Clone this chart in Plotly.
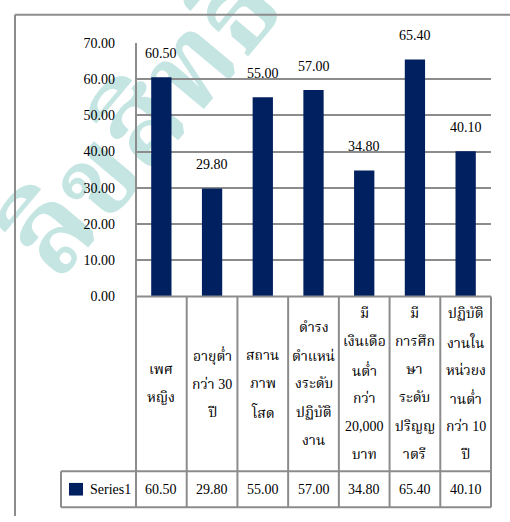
import plotly.graph_objects as go

# ---- data ----
categories = ["เพศหญิง", "อายุต่ำกว่า 30 ปี", "สถานภาพโสด", "ดำรงตำแหน่งระดับปฏิบัติงาน",
              "มีเงินเดือนต่ำกว่า 20,000 บาท", "มีการศึกษาระดับปริญญาตรี", "ปฏิบัติงานในหน่วยงานต่ำกว่า 10 ปี"]
values = [60.50, 29.80, 55.00, 57.00, 34.80, 65.40, 40.10]
series_name = "Series1"
label_lines = [
    ["เพศ", "หญิง"],
    ["อายุต่ำ", "กว่า 30", "ปี"],
    ["สถาน", "ภาพ", "โสด"],
    ["ดำรง", "ตำแหน่", "งระดับ", "ปฏิบัติ", "งาน"],
    ["มี", "เงินเดือ", "นต่ำ", "กว่า", "20,000", "บาท"],
    ["มี", "การศึก", "ษา", "ระดับ", "ปริญญ", "าตรี"],
    ["ปฏิบัติ", "งานใน", "หน่วยง", "านต่ำ", "กว่า 10", "ปี"],
]
y_ticks = [0, 10, 20, 30, 40, 50, 60, 70]

W, H = 510, 522
def px(x): return x / W
def py(y): return 1 - y / H

BAR = "#00205F"
LINE = "#8c8c8c"
SERIF = "Liberation Serif"
THAI = "Liberation Serif, Noto Serif Thai, Norasi"

PL, PR, PT, PB = 136, 491, 37, 298   # plot area
TB1, TB2 = 478, 515                   # table row bounds
LEGX = 61

fig = go.Figure()
fig.add_trace(go.Bar(x=categories, y=values, marker=dict(color=BAR, line=dict(width=0)),
                     name=series_name, showlegend=False, hoverinfo="skip"))

shapes = []
# watermark (below traces and gridlines)
shapes.append(dict(type="rect", xref="paper", yref="paper", layer="below",
                   x0=px(-60), x1=px(340), y0=py(320), y1=py(-90),
                   line=dict(width=0), fillcolor="rgba(0,0,0,0)",
                   label=dict(text="ลิขสิทธิ์", textangle=-50, textposition="middle center",
                              font=dict(size=115, color="#c5e5e3", family=THAI, weight="bold"))))

def hline(y, x0, x1):
    shapes.append(dict(type="line", xref="paper", yref="paper", x0=px(x0), x1=px(x1),
                       y0=py(y), y1=py(y), line=dict(color=LINE, width=2)))
def vline(x, y0, y1):
    shapes.append(dict(type="line", xref="paper", yref="paper", x0=px(x), x1=px(x),
                       y0=py(y0), y1=py(y1), line=dict(color=LINE, width=2)))

# outer chart border
hline(8, 15, 512)
vline(15, 8, 524)
# table
n = len(categories)
colw = (PR - PL) / n
hline(PB, PL, PR)
hline(TB1, LEGX, PR)
hline(TB2, LEGX, PR)
vline(LEGX, TB1, TB2)
vline(PL, PT, TB2)
for i in range(1, n + 1):
    vline(PL + colw * i, PB, TB2)
# legend key
shapes.append(dict(type="rect", xref="paper", yref="paper", x0=px(69), x1=px(83),
                   y0=py(503), y1=py(490), fillcolor=BAR, line=dict(width=0)))

annotations = []
# data labels
for c, v in zip(categories, values):
    annotations.append(dict(text=f"{v:.2f}", x=c, y=v, xref="x", yref="y", yshift=24,
                            showarrow=False, font=dict(size=14, color="black", family=SERIF)))
# table header labels
mid = (PB + TB1) / 2
for i, lines in enumerate(label_lines):
    cx = PL + colw * (i + 0.5)
    k = len(lines)
    for j, t in enumerate(lines):
        yy = mid + (j - (k - 1) / 2) * 29
        annotations.append(dict(text=t, xref="paper", yref="paper", x=px(cx), y=py(yy),
                                showarrow=False, xanchor="center", yanchor="middle",
                                font=dict(size=14, color="black", family=THAI)))
# table values row
rmid = (TB1 + TB2) / 2
for i, v in enumerate(values):
    cx = PL + colw * (i + 0.5)
    annotations.append(dict(text=f"{v:.2f}", xref="paper", yref="paper", x=px(cx), y=py(rmid),
                            showarrow=False, xanchor="center", yanchor="middle",
                            font=dict(size=14, color="black", family=SERIF)))
annotations.append(dict(text=series_name, xref="paper", yref="paper", x=px(88), y=py(rmid),
                        showarrow=False, xanchor="left", yanchor="middle",
                        font=dict(size=14, color="black", family=SERIF)))

fig.update_layout(
    width=W, height=H, margin=dict(l=0, r=0, t=0, b=0),
    paper_bgcolor="white", plot_bgcolor="rgba(0,0,0,0)",
    bargap=0.6,
    font=dict(family=SERIF),
    xaxis=dict(domain=[px(PL), px(PR)], type="category", range=[-0.5, n - 0.5],
               showticklabels=False, showgrid=False, zeroline=False, showline=False, ticks=""),
    yaxis=dict(domain=[py(PB), py(PT)], range=[0, 70], tickvals=y_ticks,
               ticktext=[f"{t:.2f}" for t in y_ticks], showgrid=True, gridcolor=LINE, gridwidth=2,
               zeroline=False, showline=False, ticks="", ticklabelstandoff=20,
               tickfont=dict(size=14, color="black", family=SERIF)),
    shapes=shapes, annotations=annotations,
)
fig.write_html("out.html")
